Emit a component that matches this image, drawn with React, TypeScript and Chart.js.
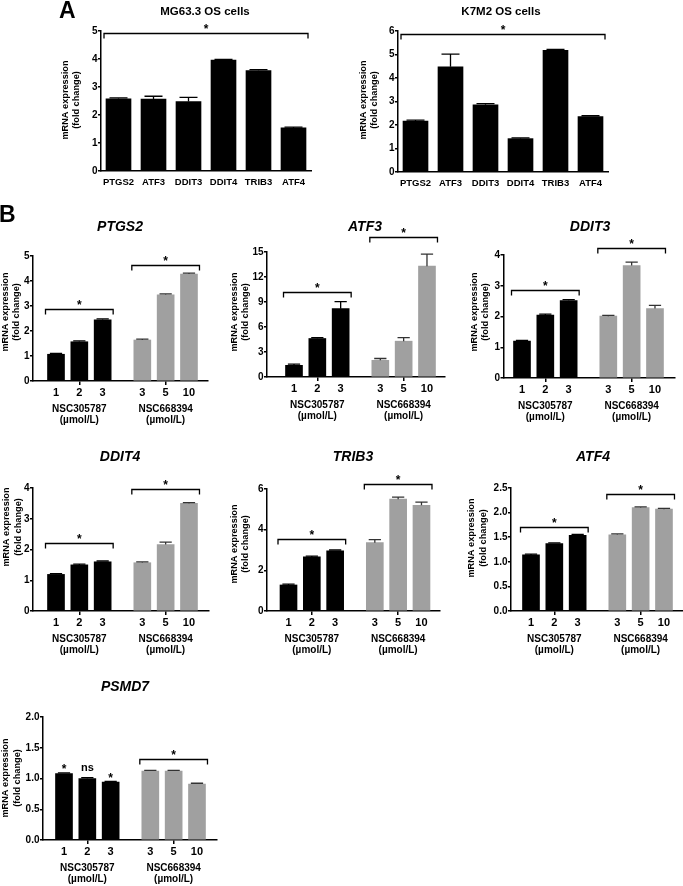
import React, { useEffect, useRef } from 'react';
import { Chart, registerables } from 'chart.js';

Chart.register(...registerables);

const FONT = "'Liberation Sans', Arial, Helvetica, sans-serif";
const PAGE_W = 683;
const PAGE_H = 886;

// ---------------- Panel A data ----------------
const aGenes = ['PTGS2', 'ATF3', 'DDIT3', 'DDIT4', 'TRIB3', 'ATF4'];
const mgValues = [2.58, 2.57, 2.48, 3.96, 3.59, 1.54];
const mgErrors = [0.03, 0.1, 0.15, 0.03, 0.02, 0.01];
const k7Values = [2.17, 4.48, 2.86, 1.42, 5.18, 2.36];
const k7Errors = [0.01, 0.54, 0.05, 0.02, 0.03, 0.01];
const mgBracket = 4.93;
const k7Bracket = 5.87;

// ---------------- Panel B data ----------------
const doseLabels = ['1', '2', '3', '3', '5', '10'];
const dosePositions = [1, 2, 3, 4.7, 5.7, 6.7];
const groupNames = ['NSC305787', 'NSC668394'];
const groupCenters = [2, 5.7];
const unitLabel = '(µmol/L)';

const ptgs2Values = [1.07, 1.57, 2.45, 1.64, 3.45, 4.28];
const ptgs2Errors = [0.01, 0.01, 0.01, 0.02, 0.02, 0.03];
const ptgs2Brackets = [2.87, 4.64];

const atf3Values = [1.4, 4.62, 8.2, 2.0, 4.3, 13.3];
const atf3Errors = [0.15, 0.05, 0.85, 0.22, 0.42, 1.45];
const atf3Brackets = [10.2, 16.8];

const ddit3Values = [1.2, 2.05, 2.52, 2.01, 3.66, 2.26];
const ddit3Errors = [0.01, 0.01, 0.02, 0.02, 0.11, 0.1];
const ddit3Brackets = [2.86, 4.22];

const ddit4Values = [1.19, 1.5, 1.6, 1.57, 2.16, 3.5];
const ddit4Errors = [0.01, 0.01, 0.02, 0.02, 0.08, 0.02];
const ddit4Brackets = [2.22, 3.96];

const trib3Values = [1.28, 2.66, 2.96, 3.36, 5.5, 5.2];
const trib3Errors = [0.01, 0.03, 0.03, 0.15, 0.1, 0.15];
const trib3Brackets = [3.53, 6.23];

const atf4Values = [1.14, 1.37, 1.54, 1.55, 2.1, 2.07];
const atf4Errors = [0.005, 0.005, 0.005, 0.01, 0.01, 0.01];
const atf4Brackets = [1.71, 2.37];

const psmd7Values = [1.08, 1.0, 0.94, 1.12, 1.12, 0.91];
const psmd7Errors = [0.005, 0.005, 0.01, 0.005, 0.005, 0.005];
const psmd7Brackets = [1.32];
const psmd7Marks = ['*', 'ns', '*'];
const psmd7MarkLevels = [1.2, 1.17, 1.05];

const BLACK = '#000000';
const GRAY = '#a0a0a0';
const PX_PER_DOSE = 23.33;

type Bracket = { from: number; to: number; level: number };
type Mark = { index: number; text: string; level: number };
type Panel = {
  id: string;
  kind: 'A' | 'B';
  title: string;
  values: number[];
  errors: number[];
  yMax: number;
  yStep: number;
  yDec: number;
  brackets: Bracket[];
  marks: Mark[];
  box: { left: number; top: number; right: number; bottom: number; c1?: number };
  titlePos: [number, number];
  yTitlePos: [number, number];
  letter?: { text: string; x: number; y: number };
};

const bBr = (lv: number[]): Bracket[] => [
  { from: 0, to: 2, level: lv[0] },
  { from: 3, to: 5, level: lv[1] },
];

const panels: Panel[] = [
  {
    id: 'mg', kind: 'A', title: 'MG63.3 OS cells', values: mgValues, errors: mgErrors,
    yMax: 5, yStep: 1, yDec: 0, brackets: [{ from: 0, to: 5, level: mgBracket }], marks: [],
    box: { left: 101, top: 31, right: 311, bottom: 171 }, titlePos: [205, 12], yTitlePos: [71, 100],
    letter: { text: 'A', x: 59, y: 18 },
  },
  {
    id: 'k7', kind: 'A', title: 'K7M2 OS cells', values: k7Values, errors: k7Errors,
    yMax: 6, yStep: 1, yDec: 0, brackets: [{ from: 0, to: 5, level: k7Bracket }], marks: [],
    box: { left: 398, top: 31, right: 608, bottom: 172 }, titlePos: [501, 12], yTitlePos: [369, 100],
  },
  {
    id: 'ptgs2', kind: 'B', title: 'PTGS2', values: ptgs2Values, errors: ptgs2Errors,
    yMax: 5, yStep: 1, yDec: 0, brackets: bBr(ptgs2Brackets), marks: [],
    box: { left: 33, top: 256, right: 208, bottom: 381, c1: 56 }, titlePos: [120, 227], yTitlePos: [11, 312],
    letter: { text: 'B', x: -1, y: 222 },
  },
  {
    id: 'atf3', kind: 'B', title: 'ATF3', values: atf3Values, errors: atf3Errors,
    yMax: 15, yStep: 3, yDec: 0, brackets: bBr(atf3Brackets), marks: [],
    box: { left: 267, top: 252, right: 445, bottom: 377, c1: 294 }, titlePos: [365, 227], yTitlePos: [240, 312],
  },
  {
    id: 'ddit3', kind: 'B', title: 'DDIT3', values: ddit3Values, errors: ddit3Errors,
    yMax: 4, yStep: 1, yDec: 0, brackets: bBr(ddit3Brackets), marks: [],
    box: { left: 503.5, top: 255, right: 675, bottom: 378, c1: 522 }, titlePos: [590, 227], yTitlePos: [480, 312],
  },
  {
    id: 'ddit4', kind: 'B', title: 'DDIT4', values: ddit4Values, errors: ddit4Errors,
    yMax: 4, yStep: 1, yDec: 0, brackets: bBr(ddit4Brackets), marks: [],
    box: { left: 33, top: 488, right: 209, bottom: 611, c1: 56 }, titlePos: [120, 457], yTitlePos: [12.5, 527],
  },
  {
    id: 'trib3', kind: 'B', title: 'TRIB3', values: trib3Values, errors: trib3Errors,
    yMax: 6, yStep: 2, yDec: 0, brackets: bBr(trib3Brackets), marks: [],
    box: { left: 267, top: 489, right: 440, bottom: 611, c1: 288.5 }, titlePos: [353, 457], yTitlePos: [240, 544],
  },
  {
    id: 'atf4', kind: 'B', title: 'ATF4', values: atf4Values, errors: atf4Errors,
    yMax: 2.5, yStep: 0.5, yDec: 1, brackets: bBr(atf4Brackets), marks: [],
    box: { left: 511, top: 488, right: 683, bottom: 611, c1: 531 }, titlePos: [593, 457], yTitlePos: [477.5, 538],
  },
  {
    id: 'psmd7', kind: 'B', title: 'PSMD7', values: psmd7Values, errors: psmd7Errors,
    yMax: 2, yStep: 0.5, yDec: 1, brackets: [{ from: 3, to: 5, level: psmd7Brackets[0] }],
    marks: psmd7Marks.map((t, i) => ({ index: i, text: t, level: psmd7MarkLevels[i] })),
    box: { left: 43, top: 717, right: 217, bottom: 840, c1: 64 }, titlePos: [125, 687], yTitlePos: [11.5, 778],
  },
];

function drawStar(ctx: CanvasRenderingContext2D, x: number, cy: number) {
  ctx.font = `bold 12px ${FONT}`;
  ctx.textAlign = 'center';
  ctx.textBaseline = 'alphabetic';
  ctx.fillText('*', x, cy + 6.8);
}

function decoPlugin(p: Panel) {
  return {
    id: 'deco_' + p.id,
    afterDraw(chart: any) {
      const ctx = chart.ctx as CanvasRenderingContext2D;
      const ys = chart.scales.y;
      const xs = chart.scales.x;
      const bars = chart.getDatasetMeta(0).data as any[];
      ctx.save();
      // error bars (upper only)
      ctx.lineWidth = 1.3;
      bars.forEach((b, i) => {
        const e = p.errors[i];
        if (!e) return;
        const yv = ys.getPixelForValue(p.values[i]);
        const ye = Math.min(ys.getPixelForValue(p.values[i] + e), yv - 0.8);
        const half = b.width * 0.36;
        ctx.strokeStyle = p.kind === 'B' && i >= 3 ? '#333333' : '#000000';
        ctx.beginPath();
        ctx.moveTo(b.x, yv);
        ctx.lineTo(b.x, ye);
        ctx.moveTo(b.x - half, ye);
        ctx.lineTo(b.x + half, ye);
        ctx.stroke();
      });
      // significance brackets
      ctx.strokeStyle = '#000';
      ctx.fillStyle = '#000';
      ctx.lineWidth = 1.3;
      p.brackets.forEach((br) => {
        const a = bars[br.from];
        const c = bars[br.to];
        const x1 = a.x - a.width / 2 - 2;
        const x2 = c.x + c.width / 2 + 2;
        const y = Math.round(ys.getPixelForValue(br.level)) + 0.5;
        ctx.beginPath();
        ctx.moveTo(x1, y + 5);
        ctx.lineTo(x1, y);
        ctx.lineTo(x2, y);
        ctx.lineTo(x2, y + 5);
        ctx.stroke();
        drawStar(ctx, (x1 + x2) / 2, y - 7);
      });
      // individual marks
      p.marks.forEach((m) => {
        const b = bars[m.index];
        const y = ys.getPixelForValue(m.level);
        if (m.text === '*') {
          drawStar(ctx, b.x, y);
        } else {
          ctx.font = `bold 11px ${FONT}`;
          ctx.textAlign = 'center';
          ctx.textBaseline = 'middle';
          ctx.fillText(m.text, b.x, y);
        }
      });
      // title
      ctx.fillStyle = '#000';
      ctx.textAlign = 'center';
      ctx.textBaseline = 'middle';
      ctx.font = p.kind === 'A' ? `bold 11.5px ${FONT}` : `italic bold 14px ${FONT}`;
      ctx.fillText(p.title, p.titlePos[0], p.titlePos[1]);
      // y axis title
      ctx.save();
      ctx.translate(p.yTitlePos[0], p.yTitlePos[1]);
      ctx.rotate(-Math.PI / 2);
      ctx.font = `bold 9.2px ${FONT}`;
      ctx.textAlign = 'center';
      ctx.textBaseline = 'middle';
      ctx.fillText('mRNA expression', 0, -6);
      ctx.fillText('(fold change)', 0, 5.5);
      ctx.restore();
      // group labels
      if (p.kind === 'B') {
        ctx.font = `bold 10px ${FONT}`;
        ctx.textAlign = 'center';
        ctx.textBaseline = 'middle';
        const base = ys.getPixelForValue(0);
        groupNames.forEach((g, gi) => {
          const gx = xs.getPixelForValue(groupCenters[gi]);
          ctx.fillText(g, gx, base + 28);
          ctx.fillText(unitLabel, gx, base + 39);
        });
      }
      // panel letter
      if (p.letter) {
        ctx.font = `bold 23px ${FONT}`;
        ctx.textAlign = 'left';
        ctx.textBaseline = 'alphabetic';
        ctx.fillText(p.letter.text, p.letter.x, p.letter.y);
      }
      ctx.restore();
    },
  };
}

function makeConfig(p: Panel): any {
  const YW = 24;
  const XH = 30;
  const padding = {
    left: p.box.left - YW,
    top: p.box.top,
    right: PAGE_W - p.box.right,
    bottom: PAGE_H - p.box.bottom - XH,
  };
  const colors = p.kind === 'A' ? p.values.map(() => BLACK) : p.values.map((_, i) => (i < 3 ? BLACK : GRAY));
  const yScale = {
    min: 0,
    max: p.yMax,
    afterFit: (s: any) => { s.width = YW; },
    ticks: {
      stepSize: p.yStep,
      color: '#000',
      font: { size: 10, weight: 'bold' },
      padding: 0.5,
      callback: (v: any) => Number(v).toFixed(p.yDec),
    },
    grid: { drawOnChartArea: false, drawTicks: true, tickLength: 3, color: '#000', lineWidth: 1.5 },
    border: { display: true, color: '#000', width: 1.5 },
  };
  let xScale: any;
  let data: any;
  if (p.kind === 'A') {
    xScale = {
      type: 'category',
      offset: true,
      afterFit: (s: any) => { s.height = XH; },
      grid: { display: false, drawTicks: false },
      border: { display: true, color: '#000', width: 1.5 },
      ticks: { color: '#000', font: { size: 9.5, weight: 'bold' }, padding: 6, autoSkip: false, maxRotation: 0 },
    };
    data = {
      labels: aGenes,
      datasets: [{ data: p.values, backgroundColor: colors, borderWidth: 0, barThickness: 25 }],
    };
  } else {
    const c1 = p.box.c1 as number;
    const xMin = 1 - (c1 - p.box.left) / PX_PER_DOSE;
    const xMax = 1 + (p.box.right - c1) / PX_PER_DOSE;
    xScale = {
      type: 'linear',
      min: xMin,
      max: xMax,
      offset: false,
      afterFit: (s: any) => { s.height = XH; },
      afterBuildTicks: (s: any) => { s.ticks = dosePositions.map((v) => ({ value: v })); },
      ticks: {
        autoSkip: false,
        maxRotation: 0,
        color: '#000',
        font: { size: 11, weight: 'bold' },
        padding: 1.5,
        callback: (_v: any, i: number) => doseLabels[i],
      },
      grid: {
        offset: false,
        drawOnChartArea: false,
        drawTicks: true,
        tickLength: 4,
        lineWidth: 1.5,
        color: (c: any) => (c.index === 1 || c.index === 4 ? '#000' : 'rgba(0,0,0,0)'),
      },
      border: { display: true, color: '#000', width: 1.5 },
    };
    data = {
      datasets: [{
        data: p.values.map((v, i) => ({ x: dosePositions[i], y: v })),
        backgroundColor: colors,
        borderWidth: 0,
        barThickness: 17,
      }],
    };
  }
  return {
    type: 'bar',
    data,
    options: {
      responsive: false,
      maintainAspectRatio: false,
      animation: false,
      devicePixelRatio: 1,
      layout: { padding },
      plugins: { legend: { display: false }, tooltip: { enabled: false }, title: { display: false } },
      scales: { x: xScale, y: yScale },
    },
    plugins: [decoPlugin(p)],
  };
}

function PanelCanvas({ panel }: { panel: Panel }) {
  const ref = useRef<HTMLCanvasElement | null>(null);
  useEffect(() => {
    if (!ref.current) return;
    const chart = new Chart(ref.current, makeConfig(panel));
    return () => chart.destroy();
  }, [panel]);
  return (
    <canvas
      ref={ref}
      width={PAGE_W}
      height={PAGE_H}
      style={{ position: 'absolute', left: 0, top: 0, width: PAGE_W, height: PAGE_H }}
    />
  );
}

export default function App() {
  Chart.defaults.font.family = FONT;
  Chart.defaults.color = '#000';
  return (
    <div style={{ position: 'fixed', left: 0, top: 0, width: PAGE_W, height: PAGE_H, background: '#fff', overflow: 'hidden' }}>
      {panels.map((p) => (
        <PanelCanvas key={p.id} panel={p} />
      ))}
    </div>
  );
}
